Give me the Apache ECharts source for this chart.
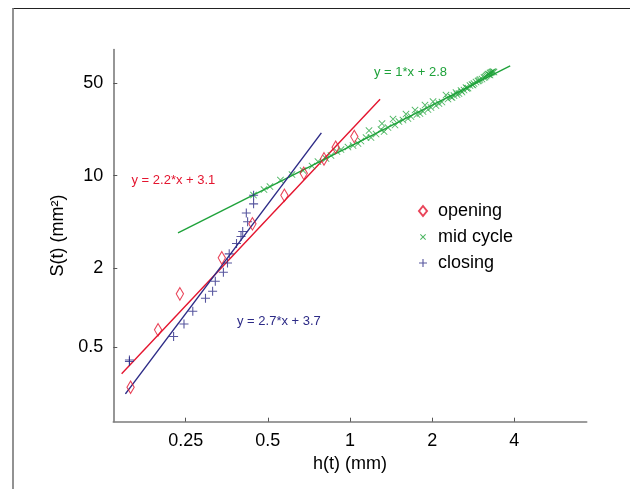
<!DOCTYPE html>
<html>
<head>
<meta charset="utf-8">
<script src="https://cdn.jsdelivr.net/npm/echarts@6/dist/echarts.min.js"></script>
<style>
html,body{margin:0;padding:0;background:#fff;}
#chart{width:630px;height:489px;}
</style>
</head>
<body>
<div id="chart"></div>
<script>
// ---- data ----
const xTicks = [0.25, 0.5, 1, 2, 4];
const xTickLabels = ['0.25', '0.5', '1', '2', '4'];
const yTicks = [0.5, 2, 10, 50];
const yTickLabels = ['0.5', '2', '10', '50'];

const openingH = [0.157, 0.198, 0.238, 0.339, 0.439, 0.575, 0.677, 0.803, 0.886, 1.037];
const openingS = [0.249, 0.678, 1.27, 2.38, 4.31, 7.09, 10.41, 13.38, 16.39, 19.75];

const closingH = [0.1555, 0.1555, 0.2257, 0.2464, 0.2654, 0.2954, 0.3137, 0.3209, 0.3436, 0.3557,
                  0.3609, 0.3838, 0.3987, 0.4044, 0.4215, 0.4169, 0.4433, 0.4433];
const closingS = [0.390, 0.400, 0.603, 0.750, 0.938, 1.176, 1.329, 1.582, 1.851, 2.174,
                  2.551, 3.053, 3.451, 3.765, 4.467, 5.199, 6.105, 7.094];

const midH = [0.443, 0.484, 0.509, 0.556, 0.613, 0.673, 0.726, 0.763, 0.817, 0.852,
              0.896, 0.927, 0.983, 1.026, 1.070, 1.097, 1.145, 1.174, 1.194, 1.246,
              1.299, 1.310, 1.333, 1.378, 1.438, 1.462, 1.512, 1.564, 1.604, 1.631,
              1.673, 1.731, 1.760, 1.805, 1.852, 1.883, 1.931, 1.981, 2.015, 2.066,
              2.119, 2.173, 2.248, 2.286, 2.345, 2.405, 2.446, 2.509, 2.552, 2.617,
              2.662, 2.707, 2.753, 2.800, 2.847, 2.896, 2.945, 2.995, 3.046, 3.098,
              3.151, 3.177, 3.204, 3.231, 3.259, 3.286, 3.314, 3.342, 3.370, 3.259,
              3.124, 2.970, 2.823, 2.684, 2.573, 2.467, 2.365];
const midS = [7.117, 7.834, 8.253, 9.245, 10.18, 10.91, 11.80, 12.76, 13.45, 14.17,
              15.20, 15.74, 16.44, 16.88, 17.48, 18.26, 19.41, 21.93, 19.41, 20.63,
              22.31, 24.77, 21.54, 23.10, 26.79, 24.13, 25.65, 26.33, 29.24, 27.03,
              27.99, 31.35, 28.98, 29.49, 30.54, 34.20, 31.62, 32.74, 36.36, 33.91,
              35.12, 36.05, 40.73, 37.97, 39.33, 40.37, 42.54, 41.81, 44.05, 44.43,
              46.42, 46.02, 48.07, 48.91, 49.77, 51.09, 51.99, 53.37, 53.84, 55.26,
              56.73, 57.73, 58.75, 58.25, 59.78, 60.30, 60.83, 61.36, 60.83, 57.73,
              55.74, 52.45, 48.49, 45.62, 42.92, 41.08, 38.99];

// fitted lines (end points)
const fitOpeningH = [0.1456, 1.289];
const fitOpeningS = [0.3146, 37.84];
const fitClosingH = [0.1503, 0.7856];
const fitClosingS = [0.222, 21.06];
const fitMidH = [0.2343, 3.864];
const fitMidS = [3.681, 67.76];

const seriesNames = ['opening', 'mid cycle', 'closing'];
const fitLabels = ['y = 2.2*x + 3.1', 'y = 1*x + 2.8', 'y = 2.7*x + 3.7'];

// ---- styles ----
const RED = '#e4152f';
const GREEN = '#1ea23a';
const NAVY = '#2c2a86';
const FONT = '"Liberation Sans", Arial, Helvetica, sans-serif';

const zip = (a, b) => a.map((v, i) => [v, b[i]]);
const lookup = (ticks, labels) => (v) => {
  for (let i = 0; i < ticks.length; i++) {
    if (Math.abs(v - ticks[i]) / ticks[i] < 1e-6) return labels[i];
  }
  return '';
};

const DIAMOND = 'path://M5,0L10,6.5L5,13L0,6.5Z';
const PLUS = 'path://M4.4,0H5.6V10H4.4Z M0,4.4H10V5.6H0Z';
const CROSS = 'path://M0,0.85L0.85,0L10,9.15L9.15,10Z M9.15,0L10,0.85L0.85,10L0,9.15Z';
// legend icons: same shapes, padded inside a 10x10 box by tiny corner specks
const LEG_DIAMOND = 'path://M4,0L8,5L4,10L0,5Z';
const LEG_PLUS = 'path://M0,0h0.02v0.02h-0.02Z M9.98,9.98h0.02v0.02h-0.02Z M4.45,1H5.55V9H4.45Z M1,4.45H9V5.55H1Z';
const LEG_CROSS = 'path://M0,0h0.02v0.02h-0.02Z M9.98,9.98h0.02v0.02h-0.02Z M2,2.7L2.7,2L8,7.3L7.3,8Z M7.3,2L8,2.7L2.7,8L2,7.3Z';

const axisCommon = {
  type: 'log',
  logBase: 10,
  axisLine: { show: true, lineStyle: { color: '#7c7c7c', width: 1.6 } },
  splitLine: { show: false },
  minorTick: { show: false },
  nameLocation: 'middle',
  nameTextStyle: { color: '#000', fontSize: 18, fontFamily: FONT },
};

const chart = echarts.init(document.getElementById('chart'), null, { renderer: 'canvas' });

const option = {
  backgroundColor: '#fff',
  animation: false,
  grid: { left: 113.3, right: 43.3, top: 49.5, bottom: 67.3, containLabel: false },
  xAxis: Object.assign({}, axisCommon, {
    min: 0.1357, max: 7.37,
    name: 'h(t) (mm)', nameGap: 33,
    axisTick: { show: true, inside: true, length: 4, customValues: xTicks,
                lineStyle: { color: '#555', width: 1 } },
    axisLabel: { show: true, customValues: xTicks, formatter: lookup(xTicks, xTickLabels),
                 color: '#000', fontSize: 18, fontFamily: FONT, margin: 10 },
  }),
  yAxis: Object.assign({}, axisCommon, {
    min: 0.1365, max: 90.2,
    name: 'S(t) (mm²)', nameGap: 42,
    axisTick: { show: true, inside: true, length: 4, customValues: yTicks,
                lineStyle: { color: '#555', width: 1 } },
    axisLabel: { show: true, customValues: yTicks, formatter: lookup(yTicks, yTickLabels),
                 color: '#000', fontSize: 18, fontFamily: FONT, margin: 10 },
  }),
  legend: {
    data: [
      { name: seriesNames[0], icon: LEG_DIAMOND },
      { name: seriesNames[1], icon: LEG_CROSS },
      { name: seriesNames[2], icon: LEG_PLUS },
    ],
    orient: 'vertical',
    left: 413, top: 197,
    itemWidth: 20, itemHeight: 10,
    itemGap: 8,
    symbolKeepAspect: true,
    textStyle: { color: '#000', fontSize: 18, fontFamily: FONT, lineHeight: 18 },
    selectedMode: false,
  },
  series: [
    { name: 'fitOpening', type: 'line', data: zip(fitOpeningH, fitOpeningS), showSymbol: false, symbol: 'none',
      lineStyle: { color: RED, width: 1.4 }, z: 1, silent: true },
    { name: 'fitMid', type: 'line', data: zip(fitMidH, fitMidS), showSymbol: false, symbol: 'none',
      lineStyle: { color: GREEN, width: 1.4 }, z: 1, silent: true },
    { name: 'fitClosing', type: 'line', data: zip(fitClosingH, fitClosingS), showSymbol: false, symbol: 'none',
      lineStyle: { color: NAVY, width: 1.4 }, z: 1, silent: true },
    { name: 'mid cycle', type: 'scatter', data: zip(midH, midS), symbol: CROSS, symbolSize: 7, symbolKeepAspect: true,
      itemStyle: { color: GREEN }, z: 3 },
    { name: 'closing', type: 'scatter', data: zip(closingH, closingS), symbol: PLUS, symbolSize: 9, symbolKeepAspect: true,
      itemStyle: { color: NAVY }, z: 4 },
    { name: 'opening', type: 'scatter', data: zip(openingH, openingS), symbol: DIAMOND, symbolSize: [9.5, 12.5], symbolKeepAspect: true,
      itemStyle: { color: 'rgba(0,0,0,0)', borderColor: RED, borderWidth: 1.1 }, z: 5 },
  ],
  graphic: [
    { type: 'line', shape: { x1: 12.5, y1: 8.5, x2: 640, y2: 8.5 }, style: { stroke: '#222', lineWidth: 1.2 }, silent: true },
    { type: 'line', shape: { x1: 13, y1: 8, x2: 13, y2: 500 }, style: { stroke: '#777', lineWidth: 1.6 }, silent: true },
    { type: 'text', left: 131.5, top: 174, style: { text: fitLabels[0], fill: RED, font: '13px ' + FONT } },
    { type: 'text', left: 374, top: 66, style: { text: fitLabels[1], fill: GREEN, font: '13px ' + FONT } },
    { type: 'text', left: 237, top: 315, style: { text: fitLabels[2], fill: NAVY, font: '13px ' + FONT } },
  ],
};

chart.setOption(option);
</script>
</body>
</html>
